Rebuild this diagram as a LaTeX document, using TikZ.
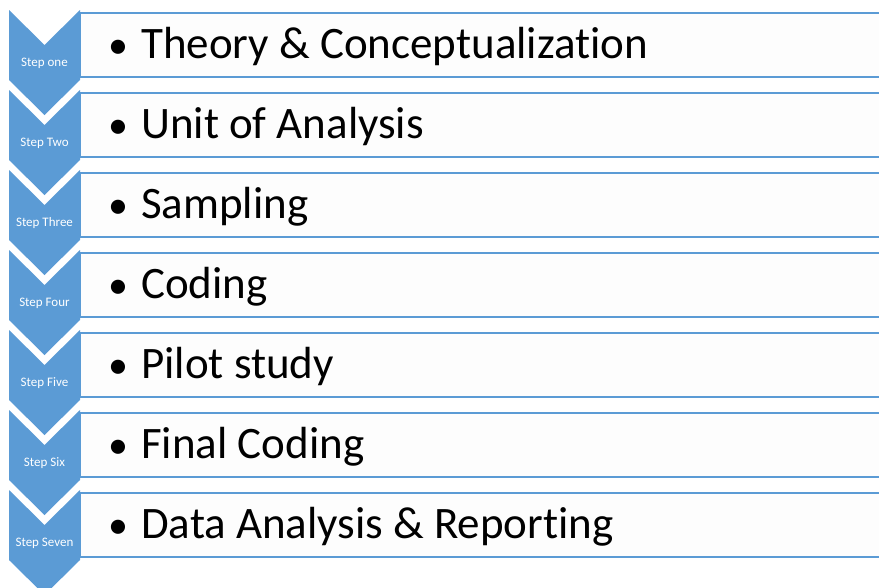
\documentclass[tikz,border=0pt]{standalone}
\usepackage{fontspec}
\setmainfont{Carlito}[Ligatures=NoCommon]
\definecolor{chevblue}{HTML}{5B9BD5}
\definecolor{boxfill}{HTML}{FDFDFD}
\begin{document}
\begin{tikzpicture}[x=1pt,y=-1pt,
  chev/.style={fill=chevblue,draw=none},
  itembox/.style={fill=boxfill,draw=chevblue,line width=2.6pt},
  steplabel/.style={text=white,font=\fontsize{13}{15}\selectfont,inner sep=0pt},
  itemtext/.style={anchor=base west,inner sep=0pt,font=\fontsize{45}{50}\selectfont}]
\useasboundingbox[fill=white] (0,0) rectangle (879,587);
\foreach \n/\lab/\txt in {1/Step one/Theory \& Conceptualization,
                          2/Step Two/Unit of Analysis,
                          3/Step Three/Sampling,
                          4/Step Four/Coding,
                          5/Step Five/Pilot study,
                          6/Step Six/Final Coding,
                          7/Step Seven/Data Analysis \& Reporting}{
  \pgfmathsetmacro{\yo}{80*(\n-1)}
  \path[itembox] (80,13+\yo) rectangle (905,77+\yo);
  \path[chev] (9,10+\yo) -- (44.5,45+\yo) -- (80,10+\yo) -- (80,80+\yo)
              -- (44.5,115+\yo) -- (9,80+\yo) -- cycle;
  \node[steplabel] (s\n) at (44.5,63+\yo) {\lab};
  \node[itemtext] (t\n) at (108,58+\yo) {\makebox[33pt][l]{\fontsize{40}{44}\selectfont •}\txt};
}
\end{tikzpicture}
\end{document}
